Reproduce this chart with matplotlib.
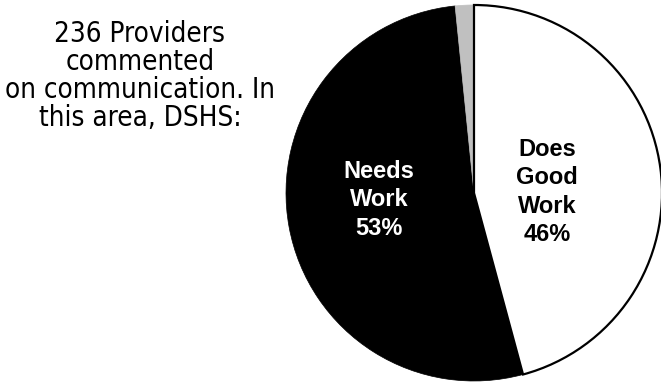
import matplotlib
matplotlib.use("Agg")
import matplotlib.pyplot as plt

categories = ["Does Good Work", "Needs Work", "Other"]
values = [45.8, 52.6, 1.6]
labels = ["Does\nGood\nWork\n46%", "Needs\nWork\n53%", ""]
colors = ["#ffffff", "#000000", "#c0c0c0"]
title_lines = ["236 Providers", "commented", "on communication. In", "this area, DSHS:"]

W, H = 661, 385
fig = plt.figure(figsize=(W / 100, H / 100), dpi=100)
ax = fig.add_axes([0, 0, 1, 1])

wedges, _ = ax.pie(values, colors=colors, startangle=90, counterclock=False,
                   center=(474, H - 193), radius=188, frame=True)
ax.set_xlim(0, W)
ax.set_ylim(0, H)
ax.set_aspect("equal")
ax.axis("off")
wedges[0].set_edgecolor("black")
wedges[0].set_linewidth(1.6)
wedges[0].set_zorder(3)
wedges[1].set_edgecolor("black")
wedges[1].set_linewidth(0.5)
wedges[2].set_edgecolor("#c0c0c0")
wedges[2].set_linewidth(0.5)

ax.text(547, H - 192, labels[0], ha="center", va="center", fontsize=17,
        fontweight="bold", family="Liberation Sans", color="black",
        linespacing=1.28, zorder=5)
ax.text(379, H - 200, labels[1], ha="center", va="center", fontsize=17,
        fontweight="bold", family="Liberation Sans", color="white",
        linespacing=1.28, zorder=5)

note_font = dict(family="DejaVu Sans", fontstretch="condensed")
renderer = fig.canvas.get_renderer()
t = fig.text(0, 0, "on communication. In", fontsize=20, **note_font)
w = t.get_window_extent(renderer).width
t.remove()
size = 20 * 270 / w

# one text per line, baselines 28 px apart
for i, line in enumerate(title_lines):
    ax.text(140, H - 42 - 28 * i, line, ha="center", va="baseline",
            fontsize=size, color="black", **note_font)

fig.savefig("out.png", dpi=100)
